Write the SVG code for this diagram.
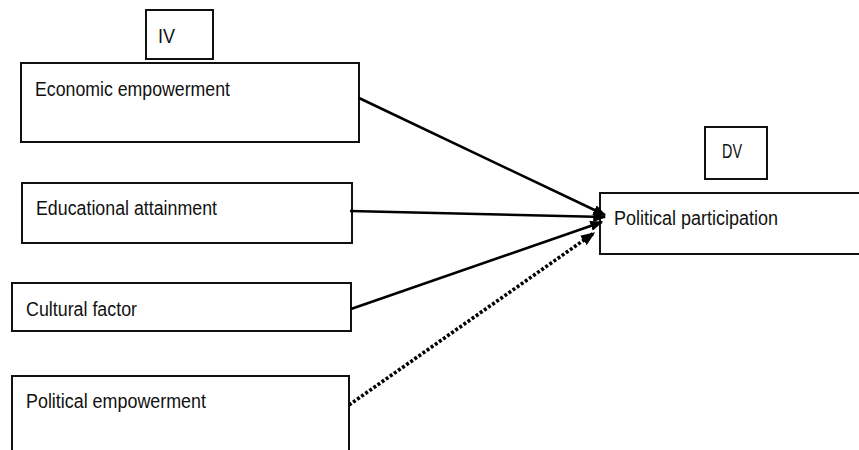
<svg xmlns="http://www.w3.org/2000/svg" width="859" height="450" viewBox="0 0 859 450">
<style>
.box{fill:#fff;stroke:#111;stroke-width:2}
.t{font-family:"Liberation Sans",Arial,sans-serif;font-size:20px;fill:#111}
.c{fill:none;stroke:#000;stroke-width:2.6}
.d{fill:none;stroke:#000;stroke-width:3.6;stroke-dasharray:3 2}
</style>
<defs>
<marker id="ah" markerWidth="5" markerHeight="4" refX="4.5" refY="2" orient="auto" markerUnits="strokeWidth">
<path d="M0,0 L5,2 L0,4 z" fill="#000"/>
</marker>
<marker id="ahd" markerWidth="4" markerHeight="3.2" refX="3.6" refY="1.6" orient="auto" markerUnits="strokeWidth">
<path d="M0,0 L4,1.6 L0,3.2 z" fill="#000"/>
</marker>
</defs>
<rect width="859" height="450" fill="#fff"/>
<g id="iv-label">
<rect class="box" x="146" y="10" width="67" height="49"/>
<text class="t" x="158" y="43" textLength="17" lengthAdjust="spacingAndGlyphs">IV</text>
</g>
<g id="economic">
<rect class="box" x="21" y="63" width="338" height="79"/>
<text class="t" x="35" y="96" textLength="195" lengthAdjust="spacingAndGlyphs">Economic empowerment</text>
</g>
<g id="educational">
<rect class="box" x="22" y="183" width="330" height="60"/>
<text class="t" x="36" y="215" textLength="181" lengthAdjust="spacingAndGlyphs">Educational attainment</text>
</g>
<g id="cultural">
<rect class="box" x="12" y="283" width="339" height="48"/>
<text class="t" x="26" y="316" textLength="111" lengthAdjust="spacingAndGlyphs">Cultural factor</text>
</g>
<g id="political-empowerment">
<rect class="box" x="12" y="376" width="337" height="90"/>
<text class="t" x="26" y="408" textLength="180" lengthAdjust="spacingAndGlyphs">Political empowerment</text>
</g>
<g id="dv-label">
<rect class="box" x="705" y="127" width="62" height="52"/>
<text class="t" x="722" y="158" textLength="20" lengthAdjust="spacingAndGlyphs">DV</text>
</g>
<g id="political-participation">
<rect class="box" x="600" y="193" width="262" height="61"/>
<text class="t" x="614" y="225" textLength="164" lengthAdjust="spacingAndGlyphs">Political participation</text>
</g>
<g id="connectors">
<line class="c" x1="359" y1="98" x2="605" y2="215" marker-end="url(#ah)"/>
<line class="c" x1="350" y1="211" x2="605" y2="217" marker-end="url(#ah)"/>
<line class="c" x1="351" y1="309" x2="602" y2="222" marker-end="url(#ah)"/>
<line class="d" x1="349" y1="405" x2="594" y2="233" marker-end="url(#ahd)"/>
</g>
</svg>
